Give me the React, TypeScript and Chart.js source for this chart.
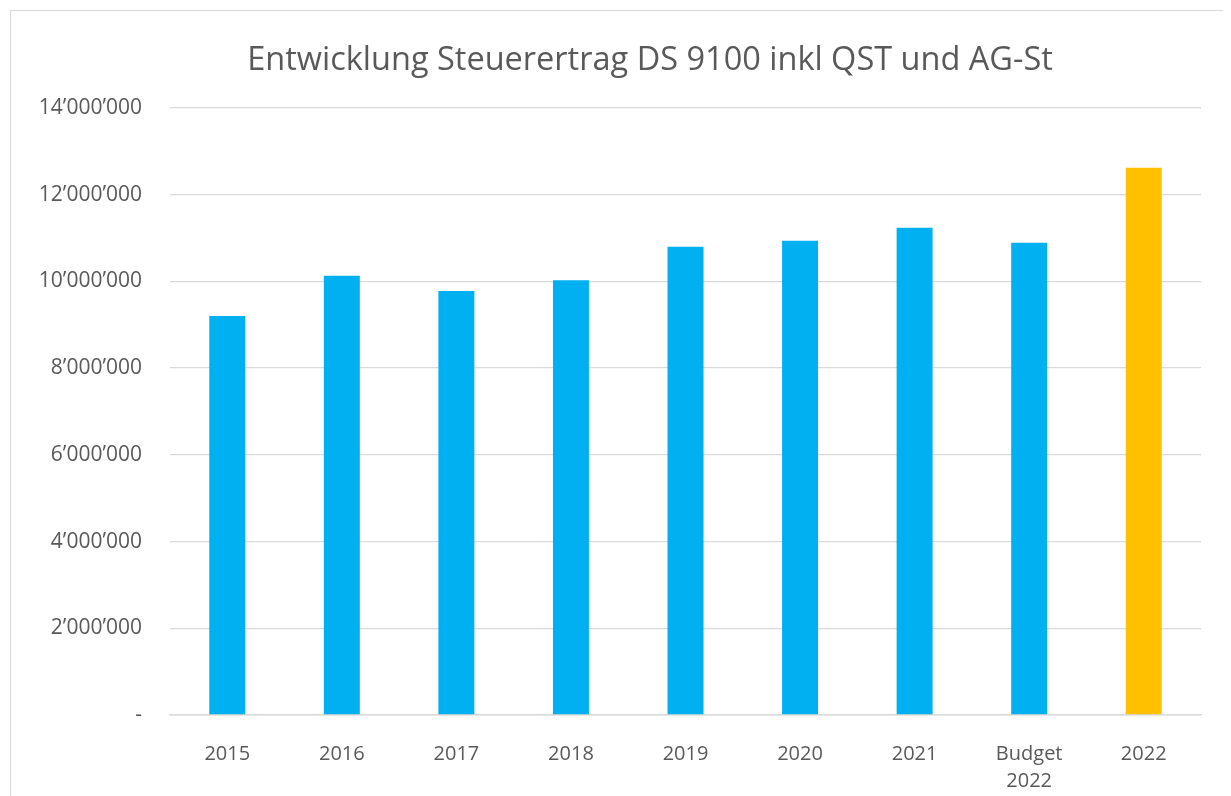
import React, { useEffect, useRef } from "react";
import { Chart, registerables } from "chart.js";

Chart.register(...registerables);

const categories: (string | string[])[] = ["2015", "2016", "2017", "2018", "2019", "2020", "2021", ["Budget", "2022"], "2022"];
const values: number[] = [9200000, 10130000, 9780000, 10030000, 10800000, 10940000, 11240000, 10890000, 12620000];
const barColors: string[] = ["#00B0F0", "#00B0F0", "#00B0F0", "#00B0F0", "#00B0F0", "#00B0F0", "#00B0F0", "#00B0F0", "#FFC000"];
const titleText = "Entwicklung Steuerertrag DS 9100 inkl QST und AG-St";
const yMin = 0;
const yMax = 14000000;
const yStep = 2000000;

const FONT = "'Open Sans', 'Noto Sans', sans-serif";

function fmt(v: number): string {
  if (v === 0) return "-";
  return String(Math.round(v)).replace(/\B(?=(\d{3})+(?!\d))/g, "\u2019");
}

const titlePlugin = {
  id: "offsetTitle",
  afterDraw(chart: any) {
    const ctx = chart.ctx;
    ctx.save();
    ctx.font = `normal 32.5px ${FONT}`;
    ctx.fillStyle = "#595959";
    ctx.textAlign = "center";
    ctx.textBaseline = "alphabetic";
    ctx.fillText(titleText, 639, 58.5);
    ctx.restore();
  },
};

export default function App() {
  const ref = useRef<HTMLCanvasElement | null>(null);
  useEffect(() => {
    if (!ref.current) return;
    const chart = new Chart(ref.current, {
      type: "bar",
      data: {
        labels: categories,
        datasets: [
          {
            data: values,
            backgroundColor: barColors,
            borderWidth: 0,
            barPercentage: 0.314,
            categoryPercentage: 1,
          },
        ],
      },
      plugins: [titlePlugin],
      options: {
        responsive: false,
        animation: false,
        layout: { padding: { left: 0, right: 28, top: 97, bottom: 0 } },
        plugins: {
          legend: { display: false },
          tooltip: { enabled: false },
          title: { display: false },
        },
        scales: {
          x: {
            grid: { display: false },
            border: { display: true, color: "#d9d9d9", width: 1.5 },
            ticks: {
              color: "#595959",
              font: { family: FONT, size: 20, lineHeight: 1.35 },
              padding: 18,
              maxRotation: 0,
              autoSkip: false,
            },
            afterFit: (s: any) => {
              s.height = 86;
            },
          },
          y: {
            min: yMin,
            max: yMax,
            grid: { color: "#d9d9d9", lineWidth: 1.3, drawTicks: false },
            border: { display: false },
            ticks: {
              stepSize: yStep,
              color: "#595959",
              font: { family: FONT, size: 21 },
              padding: 28,
              callback: (v: any) => fmt(Number(v)),
            },
            afterFit: (s: any) => {
              s.width = 159;
            },
          },
        },
      },
    });
    return () => chart.destroy();
  }, []);
  return (
    <div
      style={{
        position: "relative",
        left: 2,
        top: 2,
        width: 1218,
        height: 790,
        border: "1px solid #d9d9d9",
        background: "#fff",
      }}
    >
      <canvas ref={ref} width={1218} height={790} style={{ display: "block" }} />
    </div>
  );
}
